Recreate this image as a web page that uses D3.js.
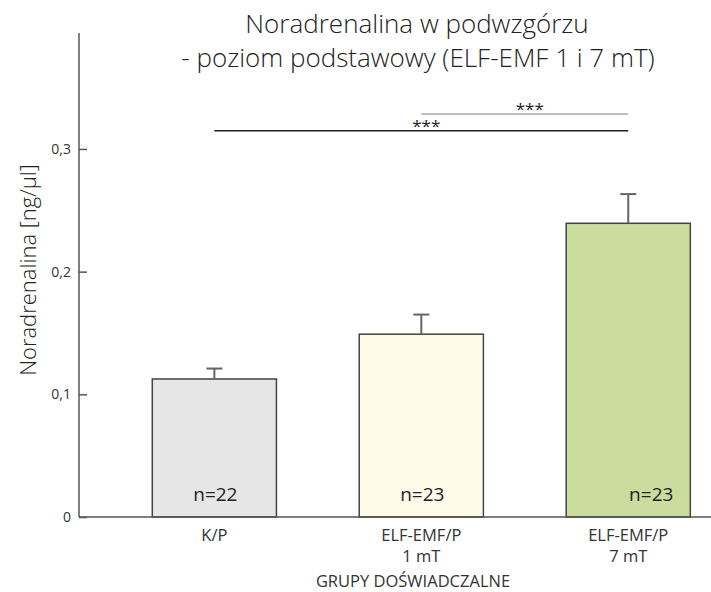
<!DOCTYPE html>
<html>
<head>
<meta charset="utf-8">
<script src="https://cdn.jsdelivr.net/npm/d3@7"></script>
<style>
	body { margin: 0; background: #fff; }
	text { font-family: "Open Sans", "Noto Sans", sans-serif; fill: #333; }
</style>
</head>
<body>
<svg class="chart"></svg>
<script>
var groups = ["K/P", "ELF-EMF/P 1 mT", "ELF-EMF/P 7 mT"]
var groupLines = [["K/P"], ["ELF-EMF/P", "1 mT"], ["ELF-EMF/P", "7 mT"]]
var means = [0.1125, 0.149, 0.2394]
var errors = [0.0085, 0.016, 0.0238]
var nLabels = ["n=22", "n=23", "n=23"]
var colors = ["#e6e6e6", "#fefbe8", "#cadd9f"]
var yTicks = [0, 0.1, 0.2, 0.3]
var yTickLabels = ["0", "0,1", "0,2", "0,3"]
// significance brackets: from group, to group, level
var sig = [
	{ from: 0, to: 2, y: 0.3148, color: "#222" },
	{ from: 1, to: 2, y: 0.3285, color: "#aaa" }
]

var width = 711
var height = 592
var x0 = 79, x1 = 711, yTop = 33, yBottom = 517

var svg = d3.select(".chart").attr("width", width).attr("height", height)

var xScale = d3.scaleBand().domain(groups).range([x0, x1])
	.paddingInner(0.4).paddingOuter(0.227).align(0.78)
var yScale = d3.scaleLinear().domain([0, 0.3945]).range([yBottom, yTop])

// title
svg.append("text").attr("x", 417).attr("y", 33).attr("text-anchor", "middle")
	.style("font-size", "26px").style("font-weight", 300).style("fill", "#222")
	.text("Noradrenalina w podwzgórzu")
svg.append("text").attr("x", 418).attr("y", 67).attr("text-anchor", "middle")
	.style("font-size", "26px").style("font-weight", 300).style("fill", "#222")
	.text("- poziom podstawowy (ELF-EMF 1 i 7 mT)")

// bars
var bars = svg.selectAll(".bar").data(groups).enter().append("g").attr("class", "bar")

bars.append("rect")
	.attr("x", d => xScale(d))
	.attr("y", (d, i) => yScale(means[i]))
	.attr("width", xScale.bandwidth())
	.attr("height", (d, i) => yScale(0) - yScale(means[i]))
	.attr("fill", (d, i) => colors[i])
	.attr("stroke", "#444")
	.attr("stroke-width", 1.5)

// error bars
bars.append("line")
	.attr("x1", d => xScale(d) + xScale.bandwidth() / 2)
	.attr("x2", d => xScale(d) + xScale.bandwidth() / 2)
	.attr("y1", (d, i) => yScale(means[i]))
	.attr("y2", (d, i) => yScale(means[i] + errors[i]))
	.attr("stroke", "#666").attr("stroke-width", 2)
bars.append("line")
	.attr("x1", d => xScale(d) + xScale.bandwidth() / 2 - 8)
	.attr("x2", d => xScale(d) + xScale.bandwidth() / 2 + 8)
	.attr("y1", (d, i) => yScale(means[i] + errors[i]))
	.attr("y2", (d, i) => yScale(means[i] + errors[i]))
	.attr("stroke", "#666").attr("stroke-width", 2)

bars.append("text")
	.attr("x", (d, i) => xScale(d) + xScale.bandwidth() / 2 + (i == 2 ? 23 : 1))
	.attr("y", 501)
	.attr("text-anchor", "middle")
	.style("font-size", "19px")
	.style("fill", "#222")
	.text((d, i) => nLabels[i])

// y axis
var yAxis = d3.axisLeft(yScale).tickValues(yTicks)
	.tickFormat((d, i) => yTickLabels[i]).tickSize(-8).tickPadding(8)
var gy = svg.append("g").attr("transform", "translate(" + x0 + ",0)").call(yAxis)
gy.select(".domain").remove()
gy.selectAll(".tick line").attr("stroke", "#555").attr("stroke-width", 1.5)
gy.selectAll(".tick text").style("font-size", "14px").style("font-family", "Open Sans").attr("fill", "#333")
svg.append("line").attr("x1", x0).attr("x2", x0).attr("y1", yTop).attr("y2", yBottom)
	.attr("stroke", "#555").attr("stroke-width", 1.5)

// x axis baseline
svg.append("line").attr("x1", x0).attr("x2", x1).attr("y1", yBottom).attr("y2", yBottom)
	.attr("stroke", "#555").attr("stroke-width", 1.5)

// x labels
var xl = svg.selectAll(".xlab").data(groups).enter().append("text").attr("class", "xlab")
	.attr("text-anchor", "middle")
	.style("font-size", "16.5px")
xl.selectAll("tspan").data((d, i) => groupLines[i].map(t => ({ t: t, g: d }))).enter()
	.append("tspan")
	.attr("x", d => xScale(d.g) + xScale.bandwidth() / 2)
	.attr("y", (d, j) => 541 + j * 21)
	.text(d => d.t)

svg.append("text").attr("x", 413).attr("y", 587).attr("text-anchor", "middle")
	.style("font-size", "16.5px").text("GRUPY DOŚWIADCZALNE")

// y label
svg.append("text").attr("transform", "translate(36,270) rotate(-90)")
	.attr("text-anchor", "middle").style("font-size", "22px").style("font-weight", 300)
	.style("fill", "#222")
	.text("Noradrenalina [ng/μl]")

// significance lines
sig.forEach(function (s) {
	var a = xScale(groups[s.from]) + xScale.bandwidth() / 2
	var b = xScale(groups[s.to]) + xScale.bandwidth() / 2
	svg.append("line").attr("x1", a).attr("x2", b)
		.attr("y1", yScale(s.y)).attr("y2", yScale(s.y))
		.attr("stroke", s.color).attr("stroke-width", 1.5)
	svg.append("text").attr("x", (a + b) / 2 + 5).attr("y", yScale(s.y) + 1)
		.attr("text-anchor", "middle").style("font-size", "17px").style("fill", "#222")
		.text("***")
})
</script>
</body>
</html>
